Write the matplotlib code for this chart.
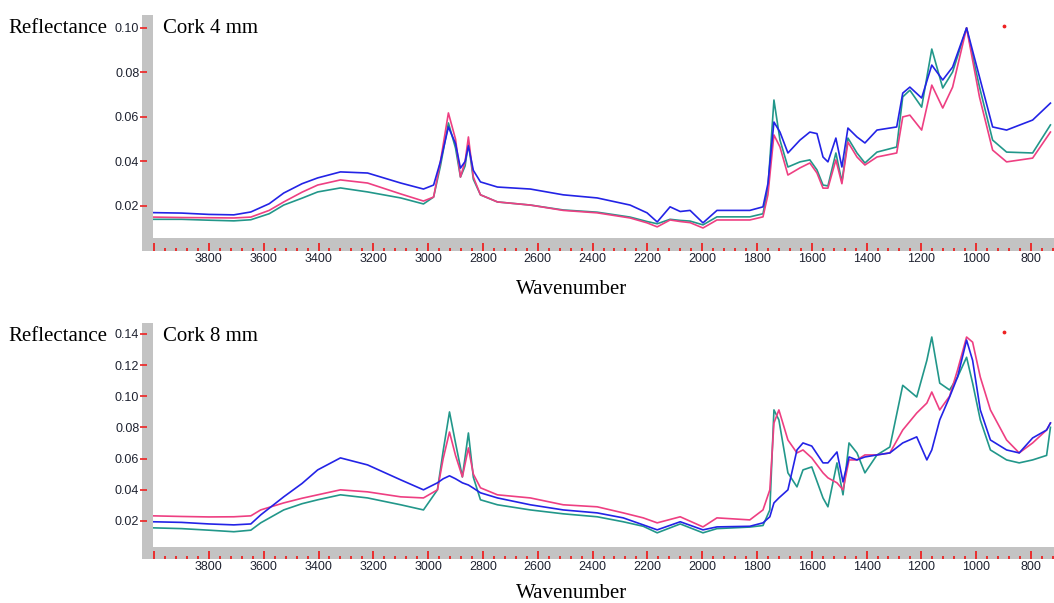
# FTIR reflectance spectra of cork, 4 mm and 8 mm, three samples each

import matplotlib
matplotlib.use("Agg")
import matplotlib.pyplot as plt
from matplotlib.patches import Rectangle
from matplotlib.ticker import FixedLocator, MultipleLocator, FuncFormatter

W, H = 1054, 603

# ---- data ----
wn_4mm = [4004, 3900, 3800, 3709, 3647, 3580, 3527, 3460, 3403, 3320, 3221, 3100,
          3017, 2980, 2955, 2926, 2900, 2882, 2865, 2853, 2835, 2809, 2747, 2627,
          2507, 2383, 2263, 2201, 2164, 2117, 2080, 2044, 1997, 1946, 1826, 1778,
          1760, 1738, 1716, 1687, 1643, 1607, 1581, 1559, 1541, 1512, 1490, 1468,
          1435, 1406, 1362, 1290, 1268, 1242, 1199, 1162, 1122, 1086, 1035, 988,
          940, 889, 794, 729]
blue_4mm = [0.0170, 0.0168, 0.0162, 0.0160, 0.0173, 0.0210, 0.0258, 0.0300, 0.0326,
            0.0353, 0.0348, 0.0303, 0.0276, 0.0294, 0.0400, 0.0555, 0.0480, 0.0370,
            0.0400, 0.0470, 0.0360, 0.0308, 0.0285, 0.0276, 0.0250, 0.0236, 0.0204,
            0.0169, 0.0128, 0.0196, 0.0175, 0.0180, 0.0124, 0.0180, 0.0180, 0.0196,
            0.0300, 0.0577, 0.0532, 0.0438, 0.0496, 0.0532, 0.0525, 0.0420, 0.0398,
            0.0505, 0.0375, 0.0550, 0.0510, 0.0483, 0.0541, 0.0555, 0.0707, 0.0734,
            0.0685, 0.0833, 0.0766, 0.0824, 0.1000, 0.0780, 0.0555, 0.0541, 0.0586,
            0.0662]
pink_4mm = [0.0150, 0.0148, 0.0147, 0.0146, 0.0150, 0.0180, 0.0218, 0.0262, 0.0294,
            0.0317, 0.0303, 0.0254, 0.0222, 0.0240, 0.0400, 0.0618, 0.0500, 0.0330,
            0.0400, 0.0510, 0.0330, 0.0250, 0.0218, 0.0204, 0.0180, 0.0169, 0.0146,
            0.0124, 0.0106, 0.0137, 0.0130, 0.0125, 0.0101, 0.0137, 0.0137, 0.0151,
            0.0250, 0.0519, 0.0465, 0.0339, 0.0371, 0.0393, 0.0348, 0.0280, 0.0280,
            0.0407, 0.0300, 0.0487, 0.0420, 0.0384, 0.0420, 0.0438, 0.0600, 0.0608,
            0.0541, 0.0743, 0.0640, 0.0734, 0.1000, 0.0690, 0.0451, 0.0398, 0.0415,
            0.0532]
teal_4mm = [0.0140, 0.0140, 0.0136, 0.0133, 0.0138, 0.0165, 0.0204, 0.0235, 0.0263,
            0.0281, 0.0263, 0.0236, 0.0209, 0.0240, 0.0380, 0.0573, 0.0460, 0.0330,
            0.0380, 0.0483, 0.0320, 0.0250, 0.0218, 0.0204, 0.0182, 0.0172, 0.0150,
            0.0130, 0.0120, 0.0140, 0.0135, 0.0132, 0.0115, 0.0151, 0.0151, 0.0165,
            0.0280, 0.0676, 0.0496, 0.0375, 0.0398, 0.0407, 0.0362, 0.0294, 0.0290,
            0.0438, 0.0308, 0.0505, 0.0438, 0.0393, 0.0442, 0.0465, 0.0690, 0.0720,
            0.0644, 0.0905, 0.0730, 0.0802, 0.1000, 0.0735, 0.0496, 0.0442, 0.0438,
            0.0564]

wn_8mm = [4004, 3900, 3800, 3709, 3647, 3611, 3527, 3460, 3403, 3320, 3221, 3100,
          3017, 2966, 2945, 2922, 2900, 2875, 2853, 2835, 2809, 2747, 2627, 2507,
          2383, 2288, 2215, 2164, 2080, 1997, 1946, 1826, 1778, 1753, 1738, 1720,
          1687, 1654, 1632, 1600, 1559, 1541, 1508, 1486, 1464, 1435, 1406, 1362,
          1315, 1268, 1217, 1180, 1162, 1133, 1097, 1068, 1035, 1013, 985, 948,
          889, 843, 794, 743, 729]
blue_8mm = [0.0194, 0.0190, 0.0180, 0.0174, 0.0180, 0.0238, 0.0354, 0.0440, 0.0527,
            0.0604, 0.0559, 0.0463, 0.0399, 0.0444, 0.0470, 0.0489, 0.0470, 0.0444,
            0.0430, 0.0410, 0.0380, 0.0347, 0.0303, 0.0270, 0.0251, 0.0219, 0.0174,
            0.0142, 0.0194, 0.0142, 0.0161, 0.0165, 0.0187, 0.0226, 0.0315, 0.0347,
            0.0399, 0.0655, 0.0700, 0.0680, 0.0572, 0.0572, 0.0642, 0.0450, 0.0610,
            0.0591, 0.0610, 0.0623, 0.0636, 0.0700, 0.0739, 0.0591, 0.0655, 0.0848,
            0.0995, 0.1123, 0.1360, 0.1230, 0.0912, 0.0719, 0.0655, 0.0636, 0.0732,
            0.0783, 0.0828]
pink_8mm = [0.0232, 0.0228, 0.0225, 0.0226, 0.0232, 0.0270, 0.0315, 0.0345, 0.0367,
            0.0399, 0.0386, 0.0354, 0.0347, 0.0399, 0.0600, 0.0770, 0.0620, 0.0482,
            0.0668, 0.0500, 0.0412, 0.0367, 0.0347, 0.0303, 0.0290, 0.0251, 0.0219,
            0.0187, 0.0226, 0.0161, 0.0219, 0.0206, 0.0270, 0.0399, 0.0828, 0.0912,
            0.0719, 0.0636, 0.0655, 0.0604, 0.0508, 0.0476, 0.0444, 0.0399, 0.0591,
            0.0591, 0.0623, 0.0623, 0.0636, 0.0783, 0.0892, 0.0956, 0.1027, 0.0912,
            0.1000, 0.1168, 0.1380, 0.1347, 0.1123, 0.0912, 0.0719, 0.0636, 0.0700,
            0.0783, 0.0828]
teal_8mm = [0.0155, 0.0150, 0.0140, 0.0130, 0.0140, 0.0187, 0.0270, 0.0310, 0.0335,
            0.0367, 0.0347, 0.0303, 0.0270, 0.0399, 0.0650, 0.0899, 0.0700, 0.0482,
            0.0764, 0.0480, 0.0335, 0.0303, 0.0270, 0.0245, 0.0226, 0.0194, 0.0165,
            0.0123, 0.0180, 0.0123, 0.0150, 0.0160, 0.0170, 0.0270, 0.0912, 0.0848,
            0.0508, 0.0418, 0.0527, 0.0546, 0.0347, 0.0290, 0.0572, 0.0367, 0.0700,
            0.0636, 0.0508, 0.0623, 0.0674, 0.1070, 0.0995, 0.1230, 0.1380, 0.1084,
            0.1040, 0.1123, 0.1250, 0.1084, 0.0848, 0.0655, 0.0591, 0.0572, 0.0591,
            0.0620, 0.0800]

panel_titles = ["Cork 4 mm", "Cork 8 mm"]
yticks_4mm = [0.02, 0.04, 0.06, 0.08, 0.10]
yticks_8mm = [0.02, 0.04, 0.06, 0.08, 0.10, 0.12, 0.14]
ylim_4mm = (0.0056, 0.1058)
ylim_8mm = (0.0032, 0.147)
dot_wn = 900
dot_4mm = 0.1007
dot_8mm = 0.141

BLUE = "#2323e6"
PINK = "#ee3f82"
TEAL = "#22978a"
GRAY = "#c3c3c3"
TICKRED = "#ee2222"
LABEL = "#1e2230"
SERIF = "Liberation Serif"

fig = plt.figure(figsize=(W / 100, H / 100), dpi=100)


def fx(px):
    return px / W


def fy(py):
    return 1 - py / H


def make_panel(top, bottom, wn, blue, pink, teal, yticks, ylim, title, dot_y,
               gray_bottom, xlabel_base):
    ax = fig.add_axes([fx(153), fy(bottom), fx(1054) - fx(153), fy(top) - fy(bottom)])
    ax.plot(wn, teal, color=TEAL, lw=1.2)
    ax.plot(wn, pink, color=PINK, lw=1.2)
    ax.plot(wn, blue, color=BLUE, lw=1.2)
    ax.scatter([dot_wn], [dot_y], s=3, color=TICKRED, clip_on=False, zorder=5)

    ax.set_xlim(4004, 716)
    ax.set_ylim(*ylim)

    for s in ["top", "right"]:
        ax.spines[s].set_visible(False)
    ax.spines["left"].set_position(("outward", 6 * 0.72))
    ax.spines["left"].set_visible(False)
    ax.spines["bottom"].set_position(("outward", (gray_bottom - bottom) * 0.72))
    ax.spines["bottom"].set_visible(False)

    # gray frame bars on left and bottom
    fig.add_artist(Rectangle((fx(142), fy(gray_bottom)), fx(153) - fx(142),
                             fy(top) - fy(gray_bottom), transform=fig.transFigure,
                             color=GRAY, lw=0, zorder=-1))
    fig.add_artist(Rectangle((fx(142), fy(gray_bottom)), fx(1054) - fx(142),
                             fy(bottom) - fy(gray_bottom), transform=fig.transFigure,
                             color=GRAY, lw=0, zorder=-1))

    ax.xaxis.set_major_locator(MultipleLocator(200))
    ax.xaxis.set_minor_locator(MultipleLocator(40))
    ax.xaxis.set_major_formatter(FuncFormatter(lambda v, p: "" if v > 3900 else f"{v:.0f}"))
    ax.tick_params(axis="x", which="major", direction="in", length=6, width=1.3,
                   color=TICKRED, pad=1.5, labelsize=9, labelcolor=LABEL)
    ax.tick_params(axis="x", which="minor", direction="in", length=2.2, width=1.3,
                   color=TICKRED)

    ax.yaxis.set_major_locator(FixedLocator(yticks))
    ax.yaxis.set_major_formatter(FuncFormatter(lambda v, p: f"{v:.2f}"))
    ax.tick_params(axis="y", which="major", direction="out", length=5, width=1.2,
                   color=TICKRED, pad=0.5, labelsize=9, labelcolor=LABEL)

    fig.text(fx(8), fy(top + 18), "Reflectance", family=SERIF,
             fontsize=15, va="baseline", ha="left")
    fig.text(fx(163), fy(top + 18), title, family=SERIF,
             fontsize=15, va="baseline", ha="left")
    fig.text(fx(572), fy(xlabel_base), "Wavenumber", family=SERIF,
             fontsize=15, va="baseline", ha="center")
    return ax


plt.rcParams["font.family"] = ["Liberation Sans", "DejaVu Sans"]

make_panel(15, 238, wn_4mm, blue_4mm, pink_4mm, teal_4mm, yticks_4mm, ylim_4mm,
           panel_titles[0], dot_4mm, 251, 294)
make_panel(323, 547, wn_8mm, blue_8mm, pink_8mm, teal_8mm, yticks_8mm, ylim_8mm,
           panel_titles[1], dot_8mm, 559, 598)

fig.savefig("out.png", dpi=100)
